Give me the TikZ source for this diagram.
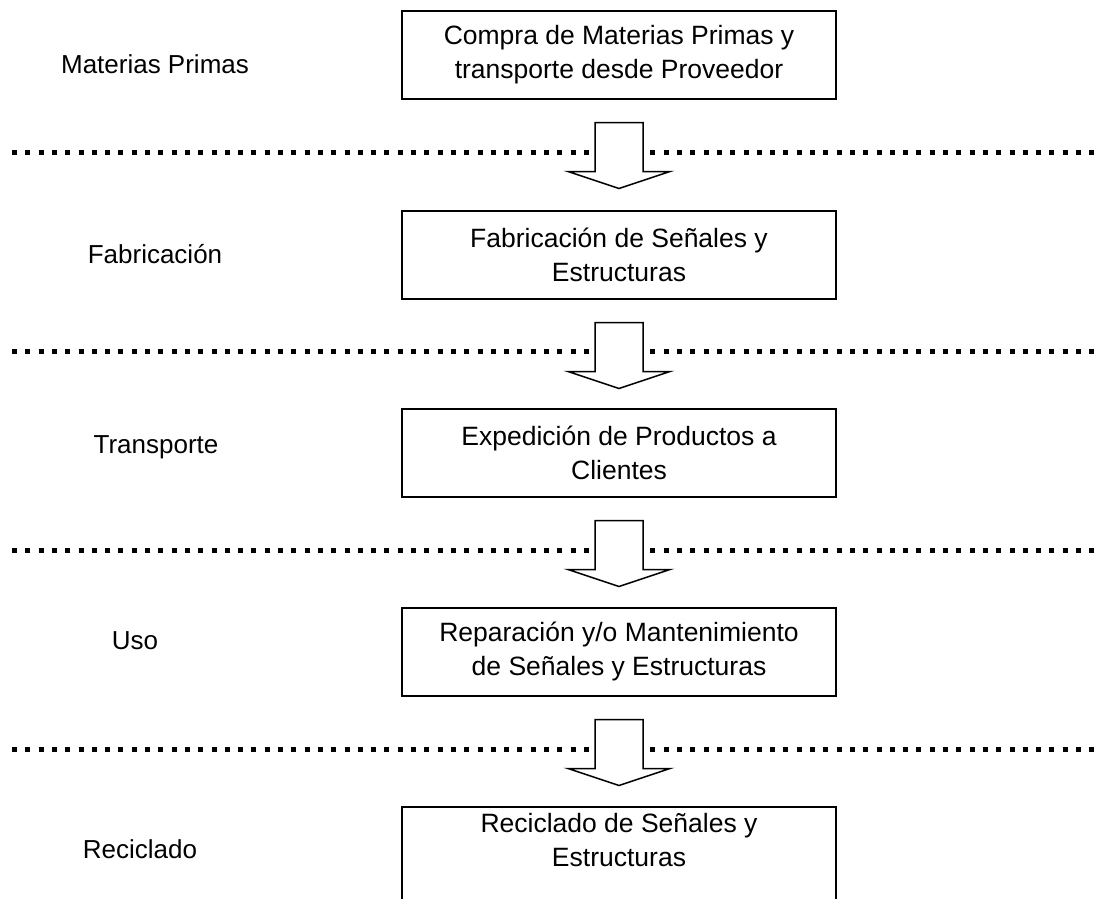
\documentclass[tikz,border=0pt]{standalone}
\usepackage{fontspec}
\setmainfont{Liberation Sans}
\begin{document}
\begin{tikzpicture}[x=1pt,y=-1pt,
  stagebox/.style={draw, line width=1.5pt, minimum width=434pt, minimum height=88pt, anchor=north,
    align=center, font=\fontsize{26.5}{34}\selectfont, inner sep=0pt},
  stagelabel/.style={font=\fontsize{26}{30}\selectfont, inner sep=0pt, text height=18.5pt, text depth=0pt},
  sepline/.style={line width=5pt, dash pattern=on 5pt off 8.3pt},
  flowarrow/.style={draw, line width=1.5pt, fill=white, line join=miter}]
\useasboundingbox (0,0) rectangle (1096,898);
\clip (0,0) rectangle (1096,898);
% separator lines
\foreach \yy in {152,351,550,749}{
  \draw[sepline] (12,\yy) -- (1096,\yy);
}
% boxes
\node[stagebox] (b1) at (619,10) {Compra de Materias Primas y\\transporte desde Proveedor};
\node[stagebox] (b2) at (619,210) {Fabricación de Señales y\\Estructuras};
\node[stagebox] (b3) at (619,408) {Expedición de Productos a\\Clientes};
\node[stagebox] (b4) at (619,607) {Reparación y/o Mantenimiento\\de Señales y Estructuras};
\node[stagebox, minimum height=130pt] (b5) at (619,806) {};
\node[align=center, font=\fontsize{26.5}{34}\selectfont, inner sep=0pt] (t5) at (619,840) {Reciclado de Señales y\\Estructuras};
% labels
\node[stagelabel] (l1) at (155,64) {Materias Primas};
\node[stagelabel] (l2) at (155,254) {Fabricación};
\node[stagelabel] (l3) at (156,444) {Transporte};
\node[stagelabel] (l4) at (135,640) {Uso};
\node[stagelabel] (l5) at (140,849) {Reciclado};
% arrows
\foreach \a/\b in {b1/b2,b2/b3,b3/b4,b4/b5}{
  \path (\a.south) ++(0,23) coordinate (top);
  \draw[flowarrow] (top) ++(-24,0) -- ++(0,49) -- ++(-27,0) -- ++(51,17) -- ++(51,-17) -- ++(-27,0) -- ++(0,-49) -- cycle;
}
\end{tikzpicture}
\end{document}
